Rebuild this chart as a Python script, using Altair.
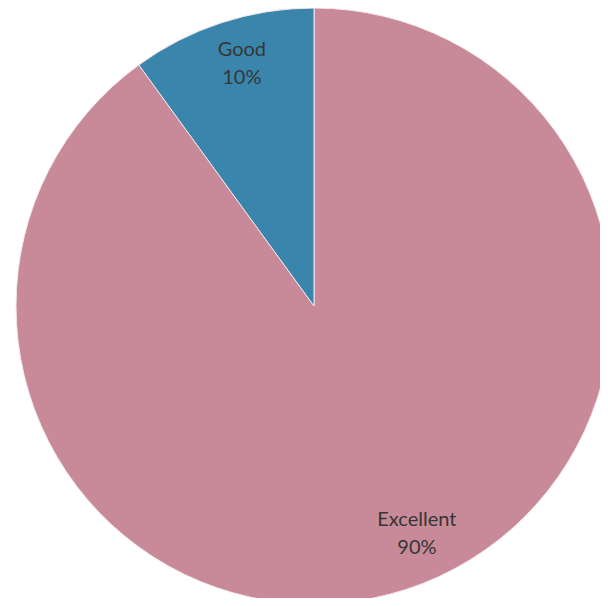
import altair as alt
import pandas as pd

categories = ["Excellent", "Good"]
values = [90, 10]
labels = ["Excellent\n90%", "Good\n10%"]
colors = ["#C88A99", "#3A85AC"]

df = pd.DataFrame({"category": categories, "value": values, "label": labels,
                   "order": [0, 1]})

CX, CY, R = 306, 298, 298

pie = alt.Chart(df).mark_arc(outerRadius=R, stroke="#F4E6EA", strokeWidth=1).encode(
    theta=alt.Theta("value:Q", stack=True),
    order=alt.Order("order:Q"),
    x=alt.value(CX), y=alt.value(CY),
    color=alt.Color("category:N", scale=alt.Scale(domain=categories, range=colors), legend=None),
)

stacked = alt.Chart(df).transform_window(
    cum="sum(value)", sort=[alt.SortField("order")]
).transform_calculate(mid="datum.cum - datum.value / 2")

tstyle = dict(fontSize=20, font="Lato", color="#363636", lineBreak="\n", lineHeight=28,
              baseline="middle", align="center", dy=-14)

txt_good = stacked.transform_filter(alt.datum.category == "Good").mark_text(
    radius=253, thetaOffset=0.025, **tstyle
).encode(
    theta=alt.Theta("mid:Q", scale=alt.Scale(domain=[0, 100])),
    x=alt.value(CX), y=alt.value(CY), text="label:N")

txt_exc = stacked.transform_filter(alt.datum.category == "Excellent").mark_text(
    radius=250, thetaOffset=-0.11, **tstyle
).encode(
    theta=alt.Theta("mid:Q", scale=alt.Scale(domain=[0, 100])),
    x=alt.value(CX), y=alt.value(CY), text="label:N")

chart = alt.layer(pie, txt_good, txt_exc).resolve_scale(theta="independent").properties(
    width=592, height=590, padding=0, autosize=alt.AutoSizeParams(type="none")
).configure_view(stroke=None)

chart.save("out.html", embed_options={"renderer": "svg", "actions": False})
